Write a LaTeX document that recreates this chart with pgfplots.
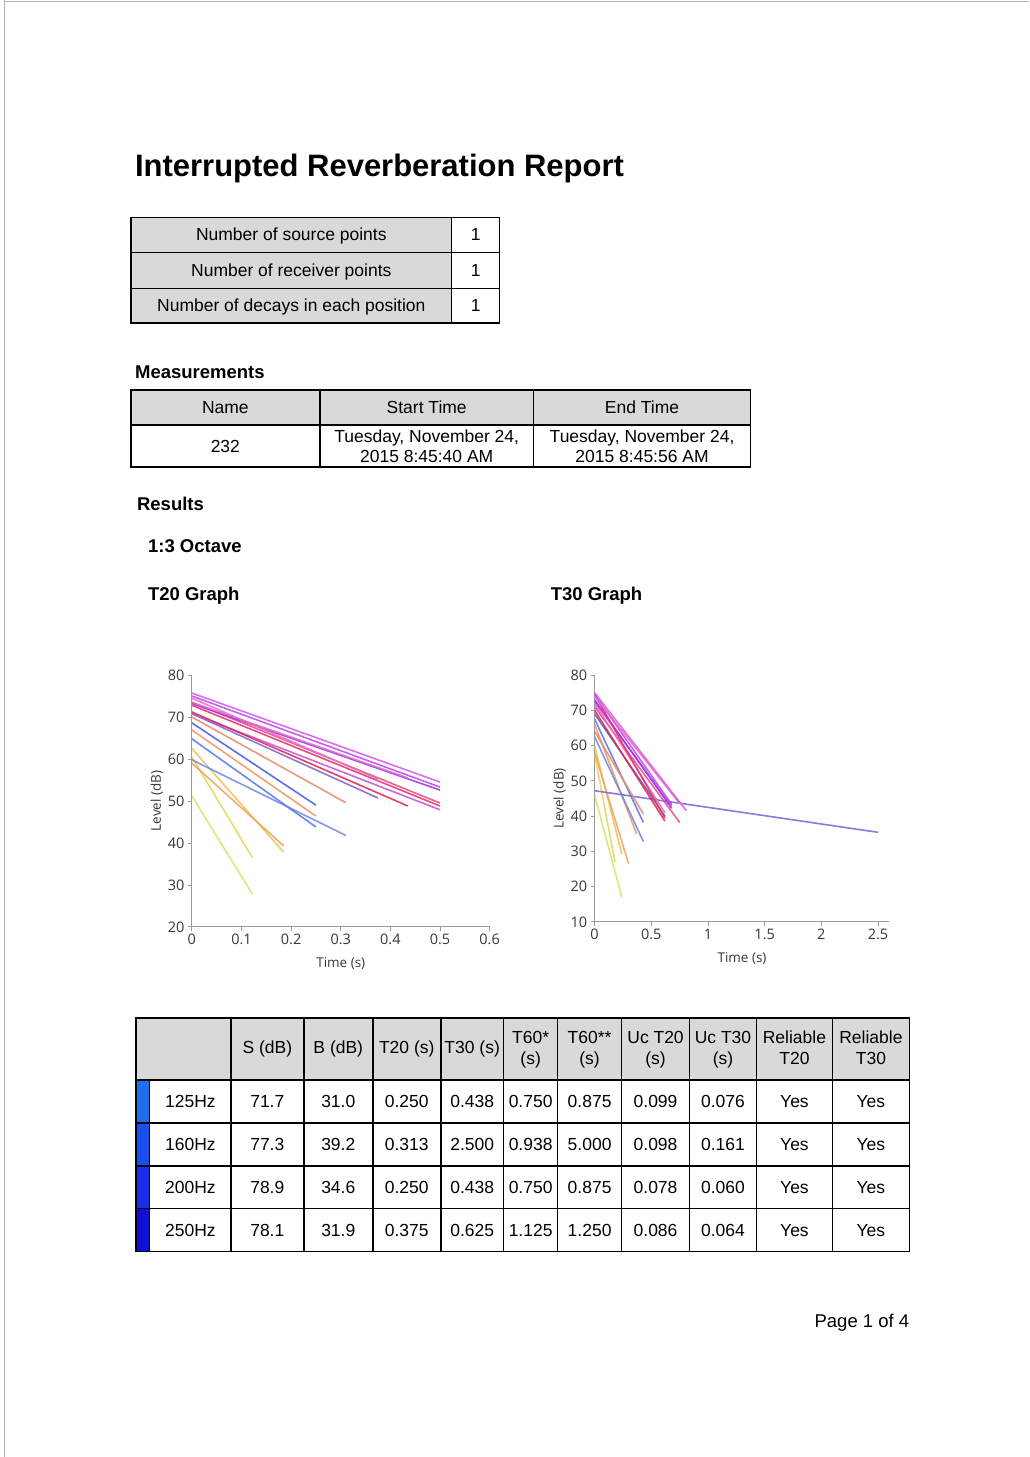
\documentclass[border=0pt]{standalone}
\usepackage{pgfplots}
\pgfplotsset{compat=1.18}
\usepackage{fontspec}
\setmainfont{Liberation Sans}
\newfontfamily\chartfont{Open Sans}

\definecolor{tgray}{HTML}{D9D9D9}
\definecolor{axisgray}{HTML}{9A9A9A}
\definecolor{tickgray}{HTML}{383838}
% decay line colours, low band -> high band
\definecolor{cA}{HTML}{D7E66A}
\definecolor{cB}{HTML}{E9D65C}
\definecolor{cC}{HTML}{F2C05A}
\definecolor{cD}{HTML}{EFA55E}
\definecolor{cE}{HTML}{EE9466}
\definecolor{cF}{HTML}{6F8CE2}
\definecolor{cG}{HTML}{5A78E4}
\definecolor{cH}{HTML}{4B5CDB}
\definecolor{cI}{HTML}{E98A6E}
\definecolor{cJ}{HTML}{7A66DA}
\definecolor{cK}{HTML}{B84DE8}
\definecolor{cL}{HTML}{9E2EF0}
\definecolor{cM}{HTML}{D95AE6}
\definecolor{cN}{HTML}{E86CC8}
\definecolor{cO}{HTML}{E84C86}
\definecolor{cP}{HTML}{E0284A}
\definecolor{cQ}{HTML}{E8336A}
\definecolor{cR}{HTML}{C056DE}
\definecolor{bA}{HTML}{1E6FF0}
\definecolor{bB}{HTML}{1A4EF0}
\definecolor{bC}{HTML}{1A30E8}
\definecolor{bD}{HTML}{1010D0}

\newcommand\tf{\fontsize{17.5}{20}\selectfont}
\newcommand\hf{\fontsize{18.5}{20}\selectfont\bfseries}

\pgfplotsset{decay/.style={
    scale only axis,
    axis x line*=bottom, axis y line*=left,
    axis line style={axisgray, line width=1pt},
    tick style={axisgray, line width=0.8pt},
    tick align=outside, major tick length=4pt,
    ticklabel style={font=\chartfont\fontsize{14.5}{15}\selectfont, text=tickgray},
    label style={font=\chartfont\fontsize{13.5}{14}\selectfont, text=tickgray},
    xlabel={Time (s)}, ylabel={Level (dB)},
    xlabel style={yshift=-6pt}, ylabel style={yshift=-2pt},
    every axis plot/.append style={line width=1.6pt, opacity=0.88},
}}

\begin{document}
\begin{tikzpicture}
\fill[white] (0pt,0pt) rectangle (1030pt,-1457pt);

\begin{scope}[x=1pt,y=-1pt]
\draw[gray!60, line width=1pt] (5,0) -- (5,1457);
\draw[gray!60, line width=1pt] (5,1.5) -- (1030,1.5);

\node[anchor=base west, inner sep=0] at (135,176)
  {\fontsize{31}{31}\selectfont\bfseries Interrupted Reverberation Report};

% summary table
\fill[tgray] (131,217) rectangle (452,323);
\draw[line width=1.6pt] (131,217) rectangle (500,323);
\draw[line width=1.6pt] (131,252) -- (500,252) (131,288) -- (500,288) (452,217) -- (452,323);
\node[anchor=base, inner sep=0] at (291.5,240.5) {\tf Number of source points};
\node[anchor=base, inner sep=0] at (291.5,276) {\tf Number of receiver points};
\node[anchor=base, inner sep=0] at (291.5,311.5) {\tf Number of decays in each position};
\node[anchor=base, inner sep=0] at (476,240.5) {\tf 1};
\node[anchor=base, inner sep=0] at (476,276) {\tf 1};
\node[anchor=base, inner sep=0] at (476,311.5) {\tf 1};

\node[anchor=base west, inner sep=0] at (135,378) {\hf Measurements};
\fill[tgray] (131,390) rectangle (751,425);
\draw[line width=1.6pt] (131,390) rectangle (751,467);
\draw[line width=1.6pt] (131,425) -- (751,425) (320,390) -- (320,467) (534,390) -- (534,467);
\node[anchor=base, inner sep=0] at (225.5,413.5) {\tf Name};
\node[anchor=base, inner sep=0] at (427,413.5) {\tf Start Time};
\node[anchor=base, inner sep=0] at (642.5,413.5) {\tf End Time};
\node[anchor=base, inner sep=0] at (225.5,452) {\tf 232};
\node[anchor=base, inner sep=0] at (427,442) {\tf Tuesday, November 24,};
\node[anchor=base, inner sep=0] at (427,462) {\tf 2015 8:45:40 AM};
\node[anchor=base, inner sep=0] at (642.5,442) {\tf Tuesday, November 24,};
\node[anchor=base, inner sep=0] at (642.5,462) {\tf 2015 8:45:56 AM};

\node[anchor=base west, inner sep=0] at (137,510) {\hf Results};
\node[anchor=base west, inner sep=0] at (148,552) {\hf 1:3 Octave};
\node[anchor=base west, inner sep=0] at (148,600) {\hf T20 Graph};
\node[anchor=base west, inner sep=0] at (551,600) {\hf T30 Graph};

% results table
\fill[tgray] (136,1018) rectangle (910,1080);
\foreach \t/\c in {1080/bA,1123/bB,1166/bC,1209/bD}
  \fill[\c] (136,\t) rectangle (150,\t+43);
\draw[line width=1.6pt] (136,1018) rectangle (910,1252);
\foreach \t in {1080,1123,1166,1209}
  \draw[line width=1.6pt] (136,\t) -- (910,\t);
\foreach \x in {231,304,373,441,504,558,622,690,757,833}
  \draw[line width=1.6pt] (\x,1018) -- (\x,1252);
\draw[line width=1pt] (150,1080) -- (150,1252);
\foreach \x/\s in {267.5/S (dB),338.5/B (dB),407/T20 (s),472.5/T30 (s)}
  \node[anchor=base, inner sep=0] at (\x,1054) {\tf \s};
\foreach \x/\a/\b in {531/T60*/(s),590/T60**/(s),656/Uc T20/(s),723.5/Uc T30/(s),795/Reliable/T20,871.5/Reliable/T30}{
  \node[anchor=base, inner sep=0] at (\x,1044) {\tf \a};
  \node[anchor=base, inner sep=0] at (\x,1065) {\tf \b};
}
\foreach \t/\a/\b/\c/\d/\e/\f/\g/\h/\i in {
  1080/125Hz/71.7/31.0/0.250/0.438/0.750/0.875/0.099/0.076,
  1123/160Hz/77.3/39.2/0.313/2.500/0.938/5.000/0.098/0.161,
  1166/200Hz/78.9/34.6/0.250/0.438/0.750/0.875/0.078/0.060,
  1209/250Hz/78.1/31.9/0.375/0.625/1.125/1.250/0.086/0.064}{
  \node[anchor=base, inner sep=0] at (190.5,\t+27.5) {\tf \a};
  \node[anchor=base, inner sep=0] at (267.5,\t+27.5) {\tf \b};
  \node[anchor=base, inner sep=0] at (338.5,\t+27.5) {\tf \c};
  \node[anchor=base, inner sep=0] at (407,\t+27.5) {\tf \d};
  \node[anchor=base, inner sep=0] at (472.5,\t+27.5) {\tf \e};
  \node[anchor=base, inner sep=0] at (531,\t+27.5) {\tf \f};
  \node[anchor=base, inner sep=0] at (590,\t+27.5) {\tf \g};
  \node[anchor=base, inner sep=0] at (656,\t+27.5) {\tf \h};
  \node[anchor=base, inner sep=0] at (723.5,\t+27.5) {\tf \i};
  \node[anchor=base, inner sep=0] at (795,\t+27.5) {\tf Yes};
  \node[anchor=base, inner sep=0] at (871.5,\t+27.5) {\tf Yes};
}

\node[anchor=base east, inner sep=0] at (910,1328) {\fontsize{18.5}{20}\selectfont Page 1 of 4};
\end{scope}

% T20 graph
\begin{axis}[decay, at={(192pt,-927pt)}, anchor=south west,
    width=298pt, height=252pt,
    xmin=0, xmax=0.6, ymin=20, ymax=80,
    xtick={0,0.1,0.2,0.3,0.4,0.5,0.6}, xticklabels={0,0.1,0.2,0.3,0.4,0.5,0.6},
    ytick={20,30,40,50,60,70,80}, yticklabels={20,30,40,50,60,70,80}]
\addplot[cA] coordinates {(0,51.2) (0.122,27.8)};
\addplot[cB] coordinates {(0,60.5) (0.122,36.5)};
\addplot[cC] coordinates {(0,62.5) (0.185,37.8)};
\addplot[cD] coordinates {(0,59.0) (0.185,39.3)};
\addplot[cE] coordinates {(0,66.9) (0.25,46.4)};
\addplot[cF] coordinates {(0,59.8) (0.31,41.8)};
\addplot[cG] coordinates {(0,64.8) (0.25,43.8)};
\addplot[cH] coordinates {(0,68.6) (0.25,49.0)};
\addplot[cI] coordinates {(0,70.0) (0.31,49.6)};
\addplot[cJ] coordinates {(0,70.8) (0.375,50.7)};
\addplot[cR] coordinates {(0,70.8) (0.5,47.9)};
\addplot[cP] coordinates {(0,71.2) (0.435,48.8)};
\addplot[cQ] coordinates {(0,72.8) (0.5,48.8)};
\addplot[cO] coordinates {(0,73.5) (0.5,49.5)};
\addplot[cL] coordinates {(0,73.2) (0.5,52.6)};
\addplot[cN] coordinates {(0,73.5) (0.435,55.5)};
\addplot[cN] coordinates {(0,74.5) (0.375,55.2)};
\addplot[cK] coordinates {(0,75.0) (0.5,53.3)};
\addplot[cM] coordinates {(0,75.7) (0.5,54.5)};
\end{axis}

% T30 graph
\begin{axis}[decay, at={(595pt,-922pt)}, anchor=south west,
    width=295pt, height=247pt,
    xmin=0, xmax=2.6, ymin=10, ymax=80,
    xtick={0,0.5,1,1.5,2,2.5}, xticklabels={0,0.5,1,1.5,2,2.5},
    ytick={10,20,30,40,50,60,70,80}, yticklabels={10,20,30,40,50,60,70,80}]
\addplot[cA] coordinates {(0,46.0) (0.24,17.0)};
\addplot[cB] coordinates {(0,57.5) (0.18,27.0)};
\addplot[cC] coordinates {(0,60.0) (0.24,29.2)};
\addplot[cD] coordinates {(0,58.0) (0.30,26.5)};
\addplot[cE] coordinates {(0,66.0) (0.37,35.0)};
\addplot[cF] coordinates {(0,62.5) (0.43,32.8)};
\addplot[cG] coordinates {(0,67.5) (0.43,38.2)};
\addplot[cJ] coordinates {(0,47.2) (2.5,35.4)};
\addplot[cI] coordinates {(0,64.0) (0.43,40.6)};
\addplot[cH] coordinates {(0,69.0) (0.62,40.0)};
\addplot[cP] coordinates {(0,70.0) (0.62,38.6)};
\addplot[cO] coordinates {(0,71.0) (0.75,38.2)};
\addplot[cN] coordinates {(0,72.0) (0.62,41.0)};
\addplot[cR] coordinates {(0,72.5) (0.68,42.8)};
\addplot[cL] coordinates {(0,73.0) (0.68,42.2)};
\addplot[cQ] coordinates {(0,74.5) (0.62,39.5)};
\addplot[cK] coordinates {(0,74.5) (0.68,43.3)};
\addplot[cN] coordinates {(0,74.0) (0.75,43.6)};
\addplot[cM] coordinates {(0,75.0) (0.81,41.5)};
\end{axis}
\end{tikzpicture}
\end{document}
